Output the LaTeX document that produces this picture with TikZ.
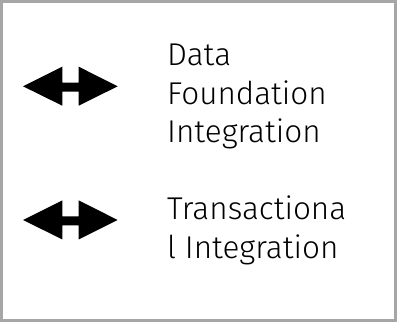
\documentclass[tikz,border=0pt]{standalone}
\usepackage{fontspec}
\setmainfont{Fira Sans Light}
\begin{document}
\begin{tikzpicture}[x=1pt,y=1pt,
  frame/.style={draw=black!35,line width=3pt},
  dblarrow/.style={fill=black,draw=none},
  label/.style={anchor=base west,align=left,inner sep=0pt,font=\fontsize{31.5}{38.5}\selectfont}]
\useasboundingbox (0,0) rectangle (397,-322);
\draw[frame] (1.5,-1.5) rectangle (395.5,-320.5);
% arrow 1
\fill[dblarrow] (23,-86.3) -- (62.3,-66.7) -- (62.3,-82.7) -- (78.7,-82.7) -- (78.7,-66.7)
  -- (117.7,-86.3) -- (78.7,-105.7) -- (78.7,-91.7) -- (62.3,-91.7) -- (62.3,-105.7) -- cycle;
% arrow 2
\begin{scope}[yshift=-133.7]
\fill[dblarrow] (23,-86.3) -- (62.3,-66.7) -- (62.3,-82.7) -- (78.7,-82.7) -- (78.7,-66.7)
  -- (117.7,-86.3) -- (78.7,-105.7) -- (78.7,-91.7) -- (62.3,-91.7) -- (62.3,-105.7) -- cycle;
\end{scope}
\node[label] (t1) at (167,-142.5) {Data\\Foundation\\Integration};
\node[label] (t2) at (167,-258) {Transactiona\\l Integration};
\end{tikzpicture}
\end{document}
